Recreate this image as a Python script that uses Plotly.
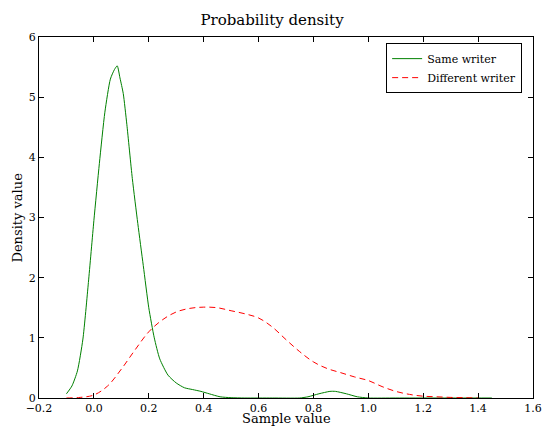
import plotly.graph_objects as go

# Same writer density
same_x = [-0.10, -0.08, -0.06, -0.04, -0.02, 0.00, 0.02, 0.04, 0.06, 0.075, 0.085,
          0.095, 0.107, 0.12, 0.14, 0.16, 0.18, 0.20, 0.22, 0.24, 0.27, 0.30, 0.33,
          0.36, 0.39, 0.42, 0.46, 0.50, 0.55, 0.65, 0.75, 0.78, 0.82, 0.86, 0.88,
          0.92, 0.96, 1.00, 1.10, 1.25, 1.45]
same_y = [0.07, 0.20, 0.45, 0.98, 1.92, 2.95, 3.90, 4.75, 5.30, 5.46, 5.52,
          5.32, 5.06, 4.55, 3.65, 2.90, 2.20, 1.50, 1.00, 0.65, 0.38, 0.25, 0.17,
          0.14, 0.11, 0.07, 0.02, 0.005, 0.0, 0.0, 0.0, 0.02, 0.07, 0.11, 0.11,
          0.07, 0.02, 0.0, 0.0, 0.0, 0.0]

# Different writer density
diff_x = [-0.10, -0.05, 0.00, 0.05, 0.10, 0.15, 0.20, 0.25, 0.30, 0.35, 0.40, 0.45,
          0.50, 0.55, 0.60, 0.65, 0.70, 0.75, 0.80, 0.85, 0.90, 0.95, 1.00, 1.05,
          1.10, 1.15, 1.20, 1.25, 1.30, 1.35, 1.40]
diff_y = [0.0, 0.01, 0.05, 0.20, 0.48, 0.80, 1.10, 1.30, 1.43, 1.49, 1.51, 1.50,
          1.45, 1.40, 1.33, 1.18, 0.97, 0.77, 0.60, 0.49, 0.42, 0.35, 0.29, 0.19,
          0.11, 0.06, 0.03, 0.02, 0.01, 0.005, 0.0]

font = "DejaVu Serif"

fig = go.Figure()
fig.add_trace(go.Scatter(x=same_x, y=same_y, mode="lines", name="Same writer",
                         line=dict(color="#008000", width=1, shape="spline", smoothing=0.6)))
fig.add_trace(go.Scatter(x=diff_x, y=diff_y, mode="lines", name="Different writer",
                         line=dict(color="#ff0000", width=1, dash="6px,4px", shape="spline")))

axis_common = dict(showline=True, linecolor="black", linewidth=1, mirror="ticks",
                   ticks="inside", ticklen=5, tickcolor="black", showgrid=False,
                   zeroline=False, automargin=False,
                   tickfont=dict(family=font, size=11, color="black"))

fig.update_layout(
    width=544, height=426,
    margin=dict(l=39, r=11, t=37, b=28),
    paper_bgcolor="white", plot_bgcolor="white",
    showlegend=True,
    title=dict(text="Probability density", x=0.5, xanchor="center",
               y=1 - 20 / 426, yanchor="middle", yref="container",
               font=dict(family=font, size=15, color="black")),
    xaxis=dict(range=[-0.2, 1.6], dtick=0.2, tick0=0, tickformat=".1f", **axis_common),
    yaxis=dict(range=[0, 6], dtick=1, tick0=0, **axis_common),
    legend=dict(x=0.978, xanchor="right", y=0.983, yanchor="top",
                bordercolor="black", borderwidth=1, bgcolor="white",
                font=dict(family=font, size=11, color="black"),
                tracegroupgap=0, itemwidth=30),
    annotations=[
        dict(text="Sample value", xref="paper", yref="paper", x=0.5, y=-0.058,
             xanchor="center", yanchor="middle", showarrow=False,
             font=dict(family=font, size=13, color="black")),
        dict(text="Density value", xref="paper", yref="paper", x=-0.0445, y=0.5,
             xanchor="center", yanchor="middle", showarrow=False, textangle=-90,
             font=dict(family=font, size=13, color="black")),
    ],
)

fig.write_html("out.html",
               config={"responsive": False, "displayModeBar": False},
               post_script="document.body.style.margin='0';document.body.style.overflow='hidden';")
